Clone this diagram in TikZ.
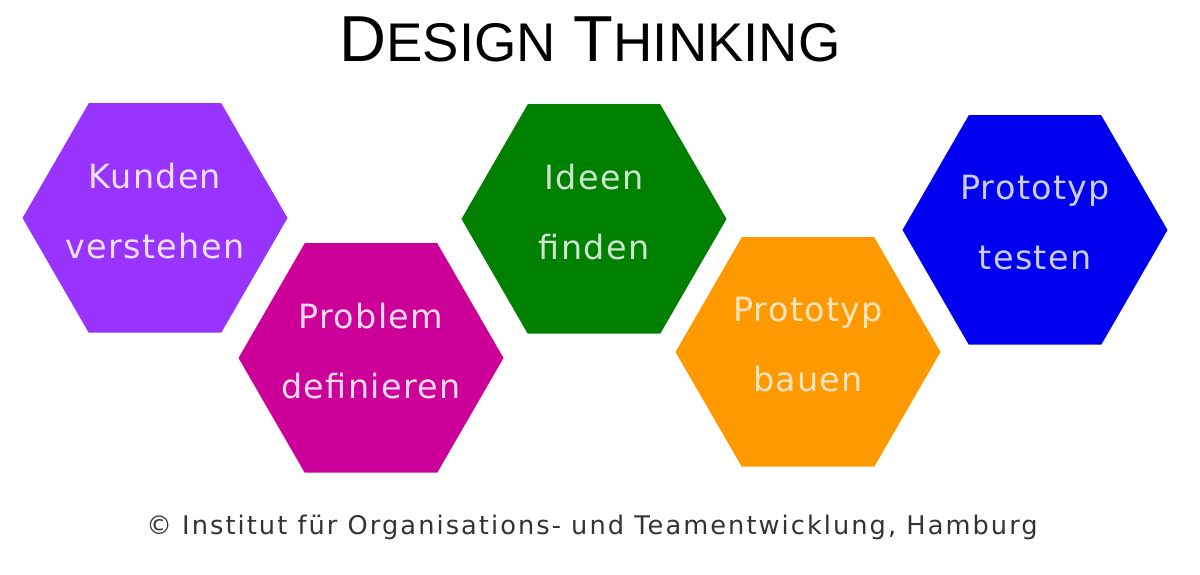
\documentclass[tikz,border=0pt]{standalone}
\usepackage{fontspec}
\usetikzlibrary{shapes.geometric}
\setmainfont[LetterSpace=4]{DejaVu Sans}
\newfontfamily\titlefont{Liberation Sans}
\newfontfamily\notefont[LetterSpace=8]{DejaVu Sans}

\definecolor{kundenviolet}{RGB}{153,51,255}
\definecolor{problemmagenta}{RGB}{204,0,153}
\definecolor{ideengreen}{RGB}{0,128,0}
\definecolor{bauenorange}{RGB}{255,153,0}
\definecolor{testenblue}{RGB}{0,0,240}

\begin{document}
\begin{tikzpicture}[
hexa/.style={regular polygon, regular polygon sides=6, minimum size=5.3cm, inner sep=-1cm, align=center, text depth=0.3cm, font=\fontsize{19}{39.8}\selectfont},
titletext/.style={font=\titlefont\fontsize{37}{40}\selectfont},
notetext/.style={font=\notefont\fontsize{14.6}{16}\selectfont, text=black!80}]

\useasboundingbox (0,0) rectangle (24,11.5);

% the five steps
\node[hexa,fill=kundenviolet,text=kundenviolet!15!white] (kunden) at (3.10,7.14) {Kunden\\verstehen};
\node[hexa,fill=problemmagenta,text=problemmagenta!15!white] (problem) at (7.42,4.34) {Problem\\definieren};
\node[hexa,fill=ideengreen,text=ideengreen!20!white] (ideen) at (11.88,7.12) {Ideen\\finden};
\node[hexa,fill=bauenorange,text=bauenorange!25!white] (bauen) at (16.16,4.46) {Prototyp\\bauen};
\node[hexa,fill=testenblue,text=testenblue!20!white] (testen) at (20.70,6.90) {Prototyp\\testen};

\node[titletext,anchor=base] (titel) at (11.8,10.26) {D{\fontsize{31}{34}\selectfont ESIGN} T{\fontsize{31}{34}\selectfont HINKING}};

\node[notetext,anchor=base] (copyright) at (11.84,0.8) {\textcopyright{} Institut für Organisations- und Teamentwicklung, Hamburg};
\end{tikzpicture}
\end{document}
